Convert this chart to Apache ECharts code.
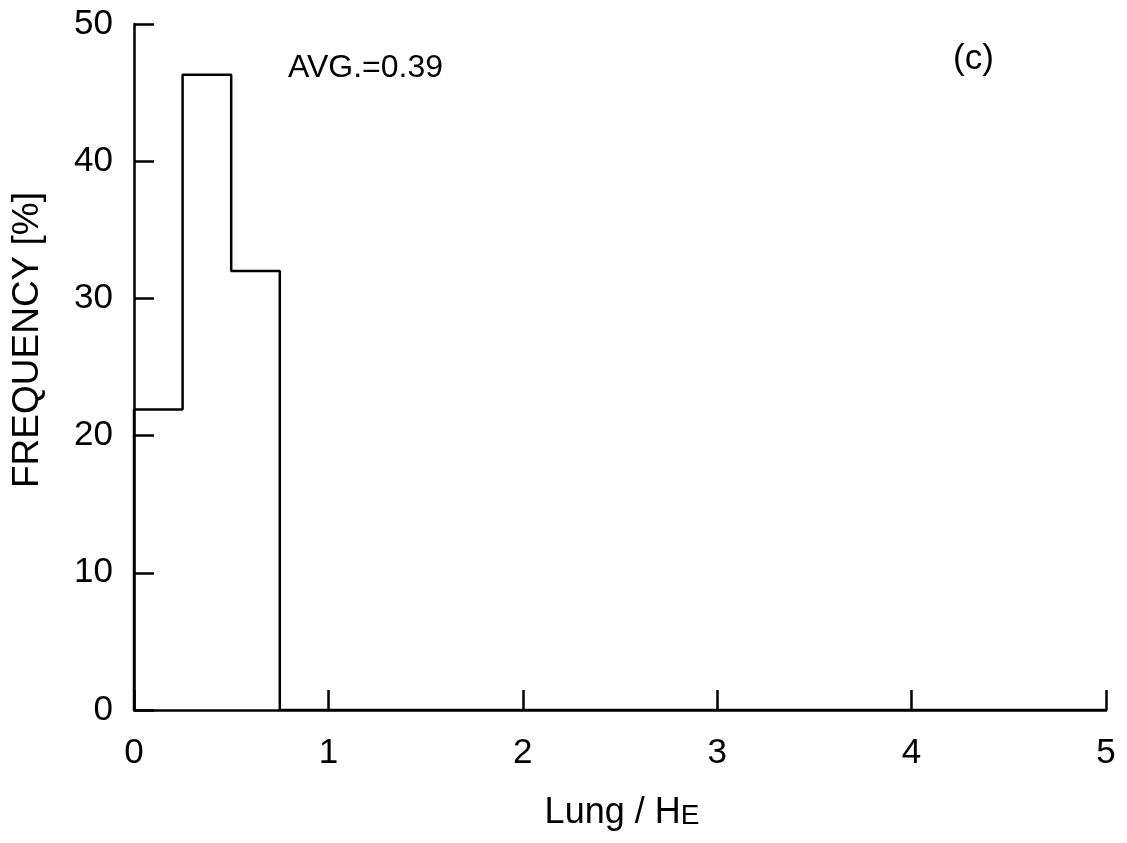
<!DOCTYPE html>
<html>
<head>
<meta charset="utf-8">
<script src="https://cdn.jsdelivr.net/npm/echarts@6/dist/echarts.min.js"></script>
<style>html,body{margin:0;padding:0;background:#fff;}#c{width:1127px;height:843px;}</style>
</head>
<body>
<div id="c"></div>
<script>
var binEdges = [0, 0.25, 0.5, 0.75];
var binWidth = 0.25;
var frequency = [21.9, 46.3, 32.0];
var xTicks = [0, 1, 2, 3, 4, 5];
var yTicks = [0, 10, 20, 30, 40, 50];
var avgText = 'AVG.=0.39';
var panelText = '(c)';

var stepData = [[binEdges[0], 0]];
for (var i = 0; i < frequency.length; i++) stepData.push([binEdges[i], frequency[i]]);
stepData.push([binEdges[frequency.length - 1] + binWidth, 0]);
stepData.push([xTicks[xTicks.length - 1], 0]);

var FONT = 'Liberation Sans';
var chart = echarts.init(document.getElementById('c'));
chart.setOption({
  backgroundColor: '#fff',
  animation: false,
  grid: {left: 134, right: 21, top: 24, bottom: 133},
  xAxis: {
    type: 'value', min: xTicks[0], max: xTicks[xTicks.length - 1], interval: 1,
    axisLine: {lineStyle: {color: '#000', width: 2.5}},
    axisTick: {inside: true, length: 20, lineStyle: {color: '#000', width: 2.5}},
    axisLabel: {color: '#000', fontSize: 35, fontFamily: FONT, margin: 26},
    splitLine: {show: false}
  },
  yAxis: {
    type: 'value', min: yTicks[0], max: yTicks[yTicks.length - 1], interval: 10,
    axisLine: {show: true, lineStyle: {color: '#000', width: 2.5}},
    axisTick: {show: true, inside: true, length: 20, lineStyle: {color: '#000', width: 2.5}},
    axisLabel: {color: '#000', fontSize: 35, fontFamily: FONT, margin: 21},
    splitLine: {show: false}
  },
  series: [{
    type: 'line', step: 'end', symbol: 'none', data: stepData,
    lineStyle: {color: '#000', width: 2.5}
  }],
  graphic: [
    {type: 'text', left: 288, top: 52, style: {text: avgText, fontSize: 32, fontFamily: FONT, fill: '#000'}},
    {type: 'text', left: 953, top: 42, style: {text: panelText, fontSize: 35, fontFamily: FONT, fill: '#000'}},
    {type: 'text', x: 28, y: 340, rotation: Math.PI / 2,
      style: {text: 'FREQUENCY [%]', fontSize: 37, fontFamily: FONT, fill: '#000', align: 'center', verticalAlign: 'middle'}},
    {type: 'text', x: 622, y: 813,
      style: {text: '{a|Lung / H}{b|E}', align: 'center', verticalAlign: 'middle',
        rich: {a: {fontSize: 36, fontFamily: FONT, color: '#000'}, b: {fontSize: 28, fontFamily: FONT, color: '#000', padding: [6, 0, 0, 0]}}}}
  ]
});
</script>
</body>
</html>
